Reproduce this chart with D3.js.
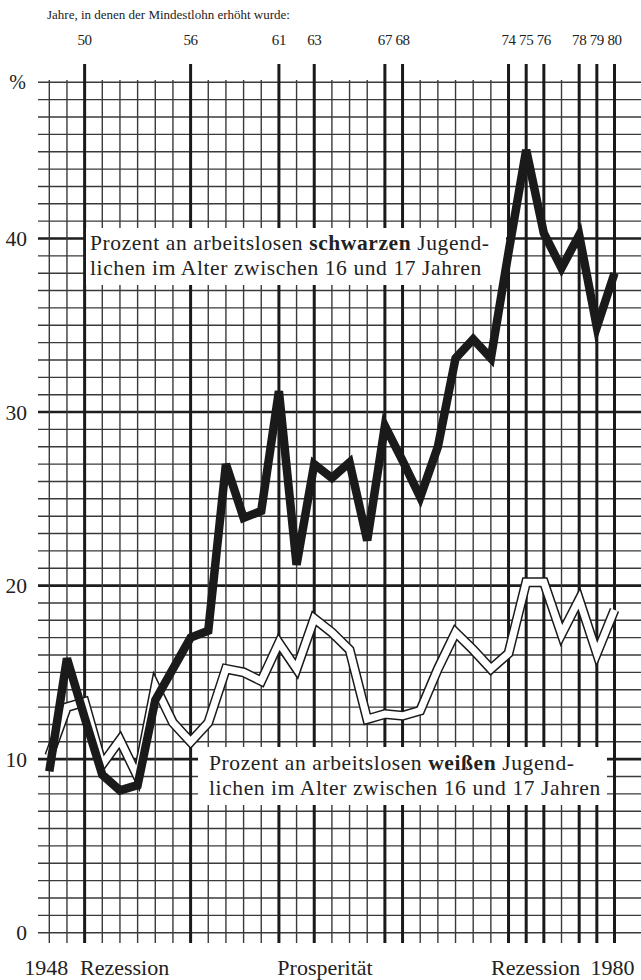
<!DOCTYPE html>
<meta charset="utf-8">
<head>
	<title>Arbeitslose Jugendliche 1948-1980</title>
	<script src="https://cdn.jsdelivr.net/npm/d3@7"></script>
	<style>
		body { margin: 0; background: #fff; }
	</style>
</head>
<body>
	<svg width="641" height="980" id="chart" font-family="'Liberation Serif', 'DejaVu Serif', serif"></svg>
	<script>
		// Daten
		var years = [1948, 1949, 1950, 1951, 1952, 1953, 1954, 1955, 1956, 1957, 1958,
			1959, 1960, 1961, 1962, 1963, 1964, 1965, 1966, 1967, 1968, 1969,
			1970, 1971, 1972, 1973, 1974, 1975, 1976, 1977, 1978, 1979, 1980];
		var schwarz = [9.3, 15.8, 12.4, 9.1, 8.2, 8.5, 13.4, 15.2, 17.0, 17.4, 27.0,
			23.9, 24.3, 31.2, 21.2, 27.0, 26.2, 27.1, 22.6, 29.2, 27.2, 25.1,
			28.0, 33.1, 34.2, 33.1, 39.2, 45.1, 40.3, 38.3, 40.2, 34.9, 38.0];
		var weiss = [10.2, 13.0, 13.3, 9.7, 11.1, 9.0, 14.2, 12.1, 11.0, 12.1, 15.2,
			15.0, 14.5, 16.7, 15.2, 18.1, 17.3, 16.3, 12.3, 12.6, 12.5, 12.8,
			15.2, 17.3, 16.3, 15.2, 16.1, 20.2, 20.2, 17.2, 19.2, 16.1, 18.6];
		var lohnJahre = [1950, 1956, 1961, 1963, 1967, 1968, 1974, 1975, 1976, 1978, 1979, 1980];
		var yTicks = [0, 10, 20, 30, 40];
		var unten = ["1948", "Rezession", "Prosperität", "Rezession", "1980"];

		var svg = d3.select("#chart");
		var x = d3.scaleLinear().domain([1948, 1980]).range([49.3, 614.5]),
			y = d3.scaleLinear().domain([0, 49]).range([932.7, 82.3]);
		var ink = "#222";

		// gitter
		var grid = svg.append("g");
		grid.selectAll("line.h")
			.data(d3.range(0, 50))
			.enter()
			.append("line")
			.attr("class", "h")
			.attr("x1", 38)
			.attr("x2", 641)
			.attr("y1", function (d) { return y(d); })
			.attr("y2", function (d) { return y(d); })
			.attr("stroke", function (d) { return d % 10 == 0 && d > 0 ? "#1e1e1e" : "#3a3a3a"; })
			.attr("stroke-width", function (d) { return d % 10 == 0 && d > 0 ? 2.6 : 1.4; });

		grid.selectAll("line.v")
			.data(years)
			.enter()
			.append("line")
			.attr("class", "v")
			.attr("x1", function (d) { return x(d); })
			.attr("x2", function (d) { return x(d); })
			.attr("y1", function (d) { return lohnJahre.indexOf(d) >= 0 ? 64 : 80; })
			.attr("y2", 943)
			.attr("stroke", function (d) { return lohnJahre.indexOf(d) >= 0 ? "#1a1a1a" : "#3a3a3a"; })
			.attr("stroke-width", function (d) { return lohnJahre.indexOf(d) >= 0 ? 3 : 1.4; });

		// titel und jahre oben
		svg.append("text")
			.attr("x", 47)
			.attr("y", 19)
			.attr("fill", ink)
			.attr("font-size", "13px")
			.text("Jahre, in denen der Mindestlohn erhöht wurde:");

		svg.selectAll("text.lohn")
			.data(lohnJahre)
			.enter()
			.append("text")
			.attr("class", "lohn")
			.attr("x", function (d) { return x(d); })
			.attr("y", 45)
			.attr("fill", ink)
			.attr("text-anchor", "middle")
			.attr("font-size", "15px")
			.attr("letter-spacing", -0.4)
			.text(function (d) { return String(d).slice(2); });

		// y achse
		svg.selectAll("text.ytick")
			.data(yTicks)
			.enter()
			.append("text")
			.attr("class", "ytick")
			.attr("x", 27)
			.attr("y", function (d) { return y(d) + 7.5; })
			.attr("fill", ink)
			.attr("text-anchor", "end")
			.attr("font-size", "21.5px")
			.text(function (d) { return d; });

		svg.append("text")
			.attr("x", 26)
			.attr("y", y(49) + 7)
			.attr("fill", ink)
			.attr("text-anchor", "end")
			.attr("font-size", "20px")
			.text("%");

		// untere beschriftung
		var untenX = [x(1948) - 3, 80, 325, 491, x(1980) - 2],
			untenAnchor = ["middle", "start", "middle", "start", "middle"];
		svg.selectAll("text.unten")
			.data(unten)
			.enter()
			.append("text")
			.attr("class", "unten")
			.attr("x", function (d, i) { return untenX[i]; })
			.attr("y", 975)
			.attr("fill", ink)
			.attr("text-anchor", function (d, i) { return untenAnchor[i]; })
			.attr("font-size", "22px")
			.text(function (d) { return d; });

		// legenden
		function legende(bx, by, bw, bh, tx, ty, fett) {
			svg.append("rect")
				.attr("x", bx).attr("y", by)
				.attr("width", bw).attr("height", bh)
				.attr("fill", "#fff");
			var t1 = svg.append("text")
				.attr("x", tx).attr("y", ty)
				.attr("fill", ink)
				.attr("font-size", "21.5px")
				.attr("letter-spacing", 0.6);
			t1.append("tspan").text("Prozent an arbeitslosen ");
			t1.append("tspan").attr("font-weight", "bold").text(fett);
			t1.append("tspan").text(" Jugend-");
			svg.append("text")
				.attr("x", tx).attr("y", ty + 25)
				.attr("fill", ink)
				.attr("font-size", "21.5px")
				.attr("letter-spacing", 0.6)
				.text("lichen im Alter zwischen 16 und 17 Jahren");
		}
		legende(86, 228, 420, 57, 90, 250, "schwarzen");
		legende(198, 747, 409, 58, 209, 770, "weißen");

		// linien
		var line = d3.line()
			.x(function (d, i) { return x(years[i]); })
			.y(function (d) { return y(d); });

		svg.append("path")
			.attr("d", line(weiss))
			.attr("fill", "none")
			.attr("stroke", "#1a1a1a")
			.attr("stroke-width", 10)
			.attr("stroke-linejoin", "miter");
		svg.append("path")
			.attr("d", line(weiss))
			.attr("fill", "none")
			.attr("stroke", "#fff")
			.attr("stroke-width", 7)
			.attr("stroke-linejoin", "miter");

		svg.append("path")
			.attr("d", line(schwarz))
			.attr("fill", "none")
			.attr("stroke", "#1a1a1a")
			.attr("stroke-width", 8.5)
			.attr("stroke-linejoin", "miter");
	</script>
</body>
